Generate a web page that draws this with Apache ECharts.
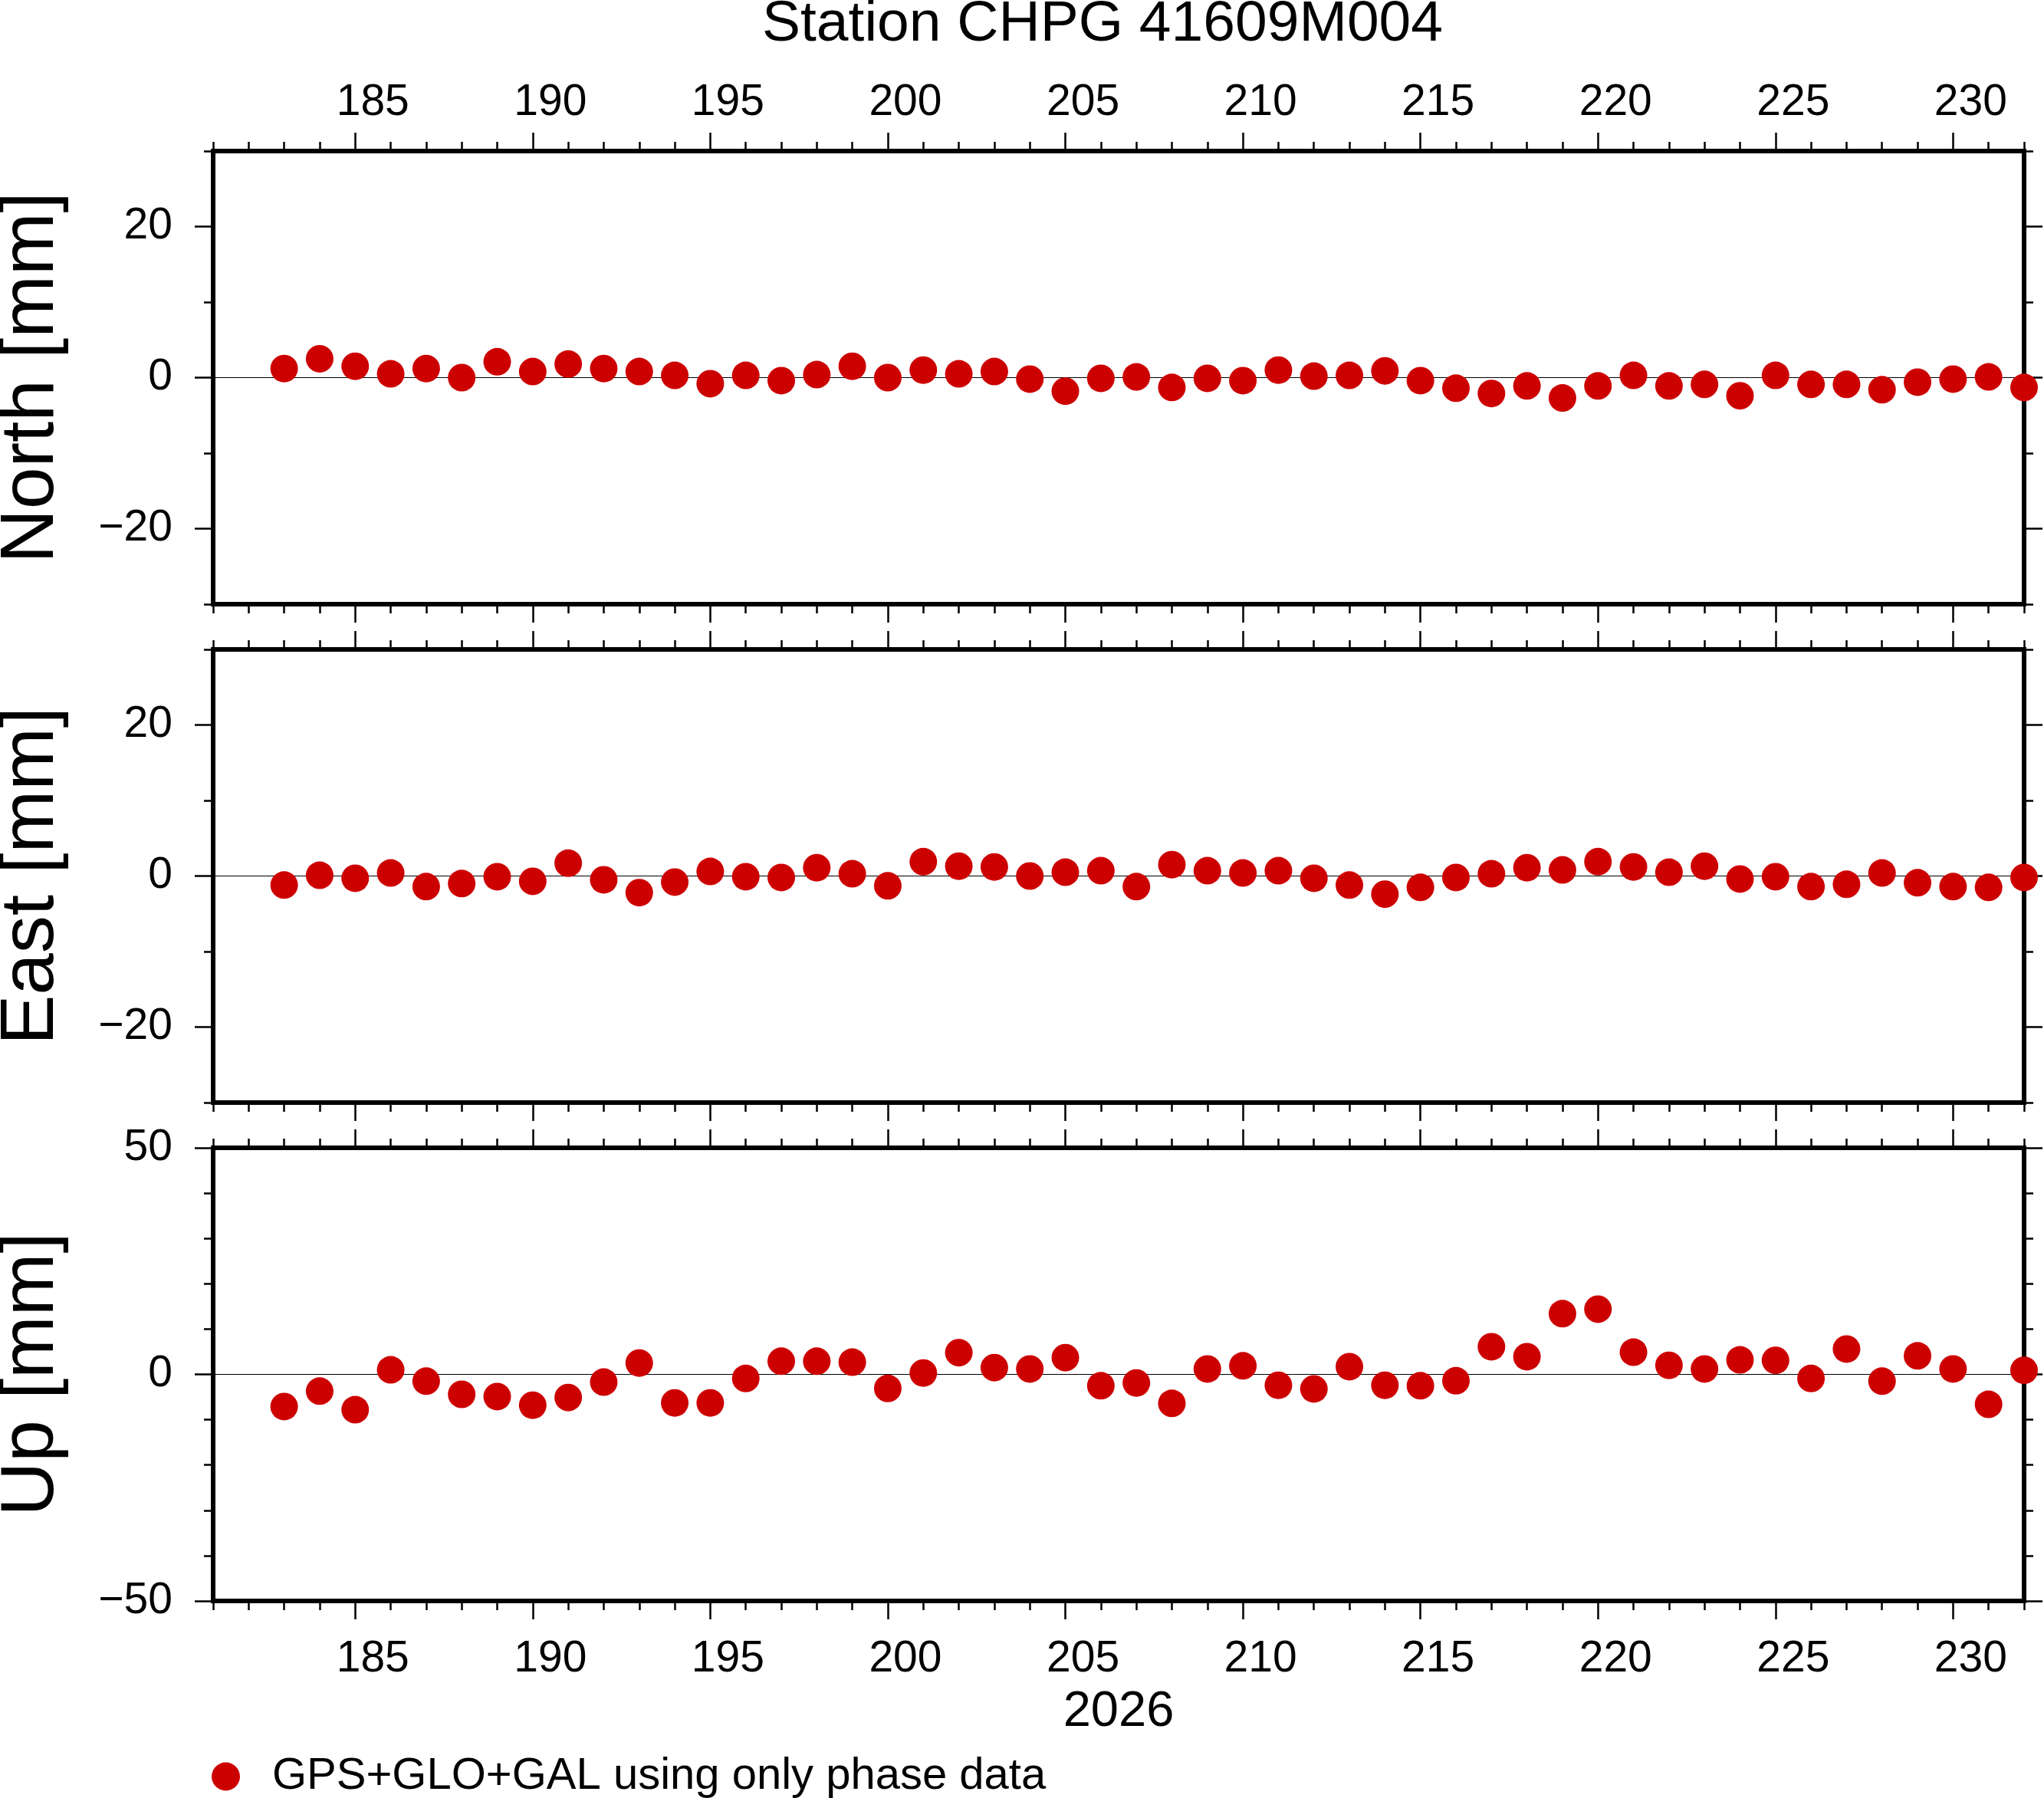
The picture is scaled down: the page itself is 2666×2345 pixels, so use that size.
<!DOCTYPE html>
<html>
<head>
<meta charset="utf-8">
<title>Station CHPG 41609M004</title>
<script src="https://cdn.jsdelivr.net/npm/echarts@6/dist/echarts.min.js"></script>
<style>
html, body { margin: 0; padding: 0; background: #fff; }
#chart { width: 2666px; height: 2345px; }
</style>
</head>
<body>
<div id="chart"></div>
<script>
// day of year 2026
var days = [183, 184, 185, 186, 187, 188, 189, 190, 191, 192,
            193, 194, 195, 196, 197, 198, 199, 200, 201, 202,
            203, 204, 205, 206, 207, 208, 209, 210, 211, 212,
            213, 214, 215, 216, 217, 218, 219, 220, 221, 222,
            223, 224, 225, 226, 227, 228, 229, 230, 231, 232];
var north = [1.2, 2.5, 1.5, 0.5, 1.2, 0.0, 2.1, 0.8, 1.8, 1.2,
             0.8, 0.3, -0.8, 0.3, -0.4, 0.4, 1.5, 0.0, 1.0, 0.5,
             0.8, -0.2, -1.8, -0.1, 0.1, -1.3, -0.1, -0.4, 1.0, 0.2,
             0.3, 0.9, -0.4, -1.4, -2.1, -1.1, -2.7, -1.1, 0.3, -1.1,
             -0.9, -2.4, 0.3, -0.9, -0.9, -1.6, -0.6, -0.2, 0.1, -1.3];
var east = [-1.2, 0.1, -0.3, 0.4, -1.4, -1.0, -0.1, -0.7, 1.7, -0.5,
            -2.2, -0.8, 0.6, -0.1, -0.2, 1.1, 0.3, -1.3, 1.9, 1.3,
            1.2, 0.0, 0.5, 0.7, -1.4, 1.5, 0.7, 0.4, 0.7, -0.3,
            -1.2, -2.4, -1.5, -0.2, 0.3, 1.1, 0.8, 1.9, 1.2, 0.5,
            1.3, -0.4, -0.1, -1.4, -1.1, 0.4, -0.9, -1.4, -1.5, -0.2];
var up = [-7.1, -3.7, -7.8, 1.0, -1.5, -4.4, -4.9, -6.8, -5.1, -1.7,
          2.5, -6.3, -6.3, -0.9, 2.9, 2.9, 2.7, -3.1, 0.3, 4.8,
          1.5, 1.2, 3.7, -2.5, -1.9, -6.4, 1.2, 1.9, -2.4, -3.2,
          1.7, -2.4, -2.5, -1.4, 6.1, 3.9, 13.4, 14.4, 4.9, 2.0,
          1.2, 3.2, 3.1, -0.9, 5.6, -1.5, 4.1, 1.2, -6.6, 0.9];

var dayLabels = [185, 190, 195, 200, 205, 210, 215, 220, 225, 230];
var neuLabels = [-20, 0, 20];
var upLabels = [-50, 0, 50];
var panelNames = ['North [mm]', 'East [mm]', 'Up [mm]'];

var font = 'Liberation Sans, Helvetica, Arial, sans-serif';
var ink = '#000';
var dotColor = '#cd0000';
var seriesName = 'GPS+GLO+GAL using only phase data';

var tops = [197, 847, 1497];
var panelH = 591;
var ranges = [[-30, 30], [-30, 30], [-50, 50]];
var majors = [neuLabels, neuLabels, upLabels];
var values = [north, east, up];

function minus(v) {
	return String(v).replace('-', '\u2212');
}

var grid = [], xAxis = [], yAxis = [], series = [];

for (var i = 0; i < 3; i++) {
	grid.push({
		left: 278, width: 2362, top: tops[i], height: panelH,
		containLabel: false, outerBoundsMode: 'none',
		show: true, borderColor: ink, borderWidth: 6
	});

	var xBase = xAxis.length;
	['bottom', 'top'].forEach(function (pos) {
		var withLabels = (pos === 'top' && i === 0) || (pos === 'bottom' && i === 2);
		// one tick per day
		xAxis.push({
			gridIndex: i, type: 'value', position: pos, min: 181, max: 232, interval: 1,
			axisLine: { show: false, onZero: false }, splitLine: { show: false }, axisLabel: { show: false },
			axisTick: { show: true, length: 12, lineStyle: { color: ink, width: 2.5 } }
		});
		// long ticks every 5 days, labels sit in the middle of the day
		xAxis.push({
			gridIndex: i, type: 'value', position: pos, min: 181, max: 232,
			axisLine: { show: false, onZero: false }, splitLine: { show: false },
			axisTick: { show: true, length: 24, customValues: dayLabels, lineStyle: { color: ink, width: 2.5 } },
			axisLabel: {
				show: withLabels, customValues: dayLabels, margin: pos === 'top' ? 34 : 48,
				padding: [0, 0, 0, 46], color: ink, fontSize: 57, fontFamily: font
			},
			name: (pos === 'bottom' && i === 2) ? '2026' : '',
			nameLocation: 'middle', nameGap: 113,
			nameTextStyle: { color: ink, fontSize: 65, fontFamily: font }
		});
	});

	var yBase = yAxis.length;
	['left', 'right'].forEach(function (pos) {
		yAxis.push({
			gridIndex: i, type: 'value', position: pos, min: ranges[i][0], max: ranges[i][1], interval: 10,
			axisLine: { show: false, onZero: false }, splitLine: { show: false }, axisLabel: { show: false },
			axisTick: { show: true, length: 12, lineStyle: { color: ink, width: 2.5 } }
		});
		yAxis.push({
			gridIndex: i, type: 'value', position: pos, min: ranges[i][0], max: ranges[i][1],
			axisLine: { show: false, onZero: false }, splitLine: { show: false },
			axisTick: { show: true, length: 24, customValues: majors[i], lineStyle: { color: ink, width: 2.5 } },
			axisLabel: {
				show: pos === 'left', customValues: majors[i], margin: 53, padding: [12, 0, 0, 0],
				color: ink, fontSize: 57, fontFamily: font, formatter: minus
			},
			name: pos === 'left' ? panelNames[i] : '',
			nameLocation: 'middle', nameRotate: 90, nameGap: 187,
			nameTextStyle: { color: ink, fontSize: 98, fontFamily: font }
		});
	});
	// zero line
	yAxis.push({
		gridIndex: i, type: 'value', min: ranges[i][0], max: ranges[i][1], interval: ranges[i][1],
		axisLine: { show: false, onZero: false }, axisTick: { show: false }, axisLabel: { show: false },
		splitLine: { show: true, lineStyle: { color: ink, width: 1.2 } }
	});

	series.push({
		name: seriesName,
		type: 'scatter',
		xAxisIndex: xBase,
		yAxisIndex: yBase,
		symbol: 'circle',
		symbolSize: 36,
		clip: false,
		z: 5,
		itemStyle: { color: dotColor, opacity: 1 },
		data: days.map(function (d, k) { return [d, values[i][k]]; })
	});
}

var myChart = echarts.init(document.getElementById('chart'));
var option = {
	animation: false,
	backgroundColor: '#fff',
	title: {
		text: 'Station CHPG 41609M004',
		left: 994, top: -5, padding: 0,
		textStyle: { color: ink, fontSize: 75, fontWeight: 'normal', fontFamily: font }
	},
	legend: {
		data: [{ name: seriesName, icon: 'circle' }],
		left: 276, top: 2288, padding: 0,
		itemWidth: 37, itemHeight: 37,
		selectedMode: false,
		textStyle: { color: ink, fontSize: 58, fontFamily: font, lineHeight: 58, padding: [0, 0, 0, 37] }
	},
	grid: grid,
	xAxis: xAxis,
	yAxis: yAxis,
	series: series
};
myChart.setOption(option);
window.addEventListener('resize', function () {
	myChart.resize();
});
</script>
</body>
</html>
